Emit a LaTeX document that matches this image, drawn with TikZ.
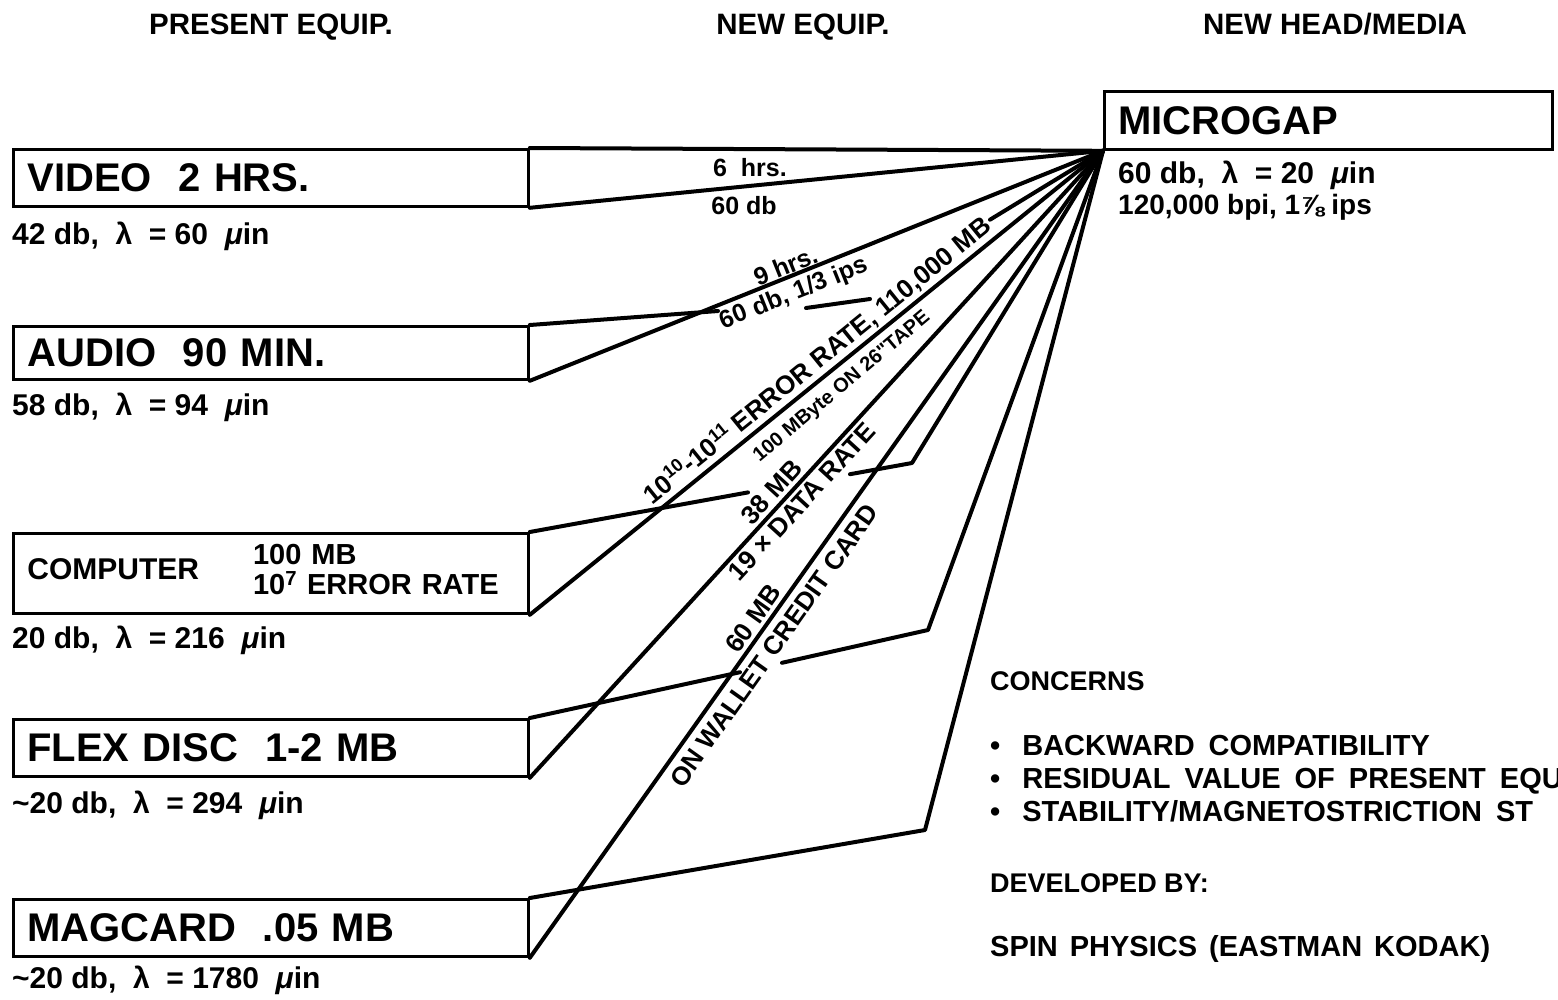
\documentclass[tikz,border=0pt]{standalone}
\usepackage{fontspec}
\setmainfont{Liberation Sans}
\usetikzlibrary{calc}
\newcommand{\fsz}[1]{\fontsize{#1}{#1}\selectfont}
\begin{document}
\begin{tikzpicture}[x=1pt,y=-1pt,
  box/.style={draw, line width=2.8pt, anchor=north west, text width=487pt, inner xsep=14pt, inner ysep=0pt, align=left, font=\fsz{40}\bfseries},
  conn/.style={line width=4pt, line join=round, line cap=round},
  captxt/.style={anchor=base west, inner sep=0pt, font=\fsz{30}\bfseries},
  head/.style={anchor=base, inner sep=0pt, font=\fsz{29.5}\bfseries},
  lbl/.style={inner sep=0pt, font=\fsz{25}\bfseries},
  big/.style={inner sep=0pt, font=\fsz{26}\bfseries},
  note/.style={anchor=base west, inner sep=0pt, font=\fsz{27}\bfseries},
  bul/.style={anchor=base west, inner sep=0pt, font=\fsz{29}\bfseries}]
\useasboundingbox (0,0) rectangle (1558,999);
\clip (0,0) rectangle (1558,999);
% headers
\node[head] (h1) at (271,34) {PRESENT EQUIP.};
\node[head] (h2) at (803,34) {NEW EQUIP.};
\node[head] (h3) at (1335,34) {NEW HEAD/MEDIA};
% boxes
\node[box, minimum height=57pt] (video) at (12,148) {VIDEO\ \ 2 HRS.};
\node[box, minimum height=53pt] (audio) at (12,325) {AUDIO\ \ 90 MIN.};
\node[box, minimum height=80pt, font=\fsz{30}\bfseries] (comp) at (12,532) {COMPUTER\hspace{54pt}{\fsz{29}\begin{tabular}[c]{@{}l@{}}100 MB\\[-2pt]10\textsuperscript{7} ERROR RATE\end{tabular}}};
\node[box, minimum height=57pt] (flex) at (12,718) {FLEX DISC\ \ 1-2 MB};
\node[box, minimum height=57pt] (mag) at (12,898) {MAGCARD\ \ .05 MB};
\node[box, minimum height=58pt, text width=420pt] (mg) at (1103,90) {MICROGAP};
% captions
\node[captxt] (c1) at (12,244) {42 db,\ \ λ\ \ = 60\ \ {\itshape μ}in};
\node[captxt] (c2) at (12,415) {58 db,\ \ λ\ \ = 94\ \ {\itshape μ}in};
\node[captxt] (c3) at (12,648) {20 db,\ \ λ\ \ = 216\ \ {\itshape μ}in};
\node[captxt] (c4) at (12,813) {\textasciitilde20 db,\ \ λ\ \ = 294\ \ {\itshape μ}in};
\node[captxt] (c5) at (12,988) {\textasciitilde20 db,\ \ λ\ \ = 1780\ \ {\itshape μ}in};
\node[captxt] (c6) at (1118,183) {60 db,\ \ λ\ \ = 20\ \ {\itshape μ}in};
\node[captxt, font=\fsz{28}\bfseries] (c7) at (1118,214) {120,000 bpi,\ 1⅞ ips};
% convergence point and bend points
\coordinate (C) at (mg.south west);
\coordinate (at1) at (718,311);
\coordinate (at2) at (806,308);
\coordinate (at3) at (870,299);
\coordinate (at4) at (990,219.7);
\coordinate (ct1) at (748,492.4);
\coordinate (ct2) at (850,474.2);
\coordinate (cb) at (912,463);
\coordinate (ft1) at (740,672.2);
\coordinate (ft2) at (782,662.8);
\coordinate (fb) at (928,630);
\coordinate (mb) at (925,830);
% connectors
\draw[conn] (video.north east) -- (C);
\draw[conn] (video.south east) -- (C);
\draw[conn] (audio.south east) -- (C);
\draw[conn] (audio.north east) -- (at1);
\draw[conn] (at2) -- (at3);
\draw[conn] (at4) -- (C);
\draw[conn] (comp.south east) -- (C);
\draw[conn] (comp.north east) -- (ct1);
\draw[conn] (ct2) -- (cb) -- (C);
\draw[conn] (flex.south east) -- (C);
\draw[conn] (flex.north east) -- (ft1);
\draw[conn] (ft2) -- (fb) -- (C);
\draw[conn] (mag.south east) -- (C);
\draw[conn] (mag.north east) -- (mb) -- (C);
% labels
\node[lbl] (l6h) at (750,168) {6\ \ hrs.};
\node[lbl] (l60) at (744,206) {60\ db};
\path (audio.south east) -- (C)
  node[lbl, pos=0.454, sloped, above=2pt] (l9h) {9 hrs.}
  node[lbl, pos=0.45, sloped, below=6pt] (l60b) {60 db, 1/3 ips};
\path (comp.south east) -- (C)
  node[big, pos=0.52, sloped, above=4pt] (lerr) {10\textsuperscript{10}-10\textsuperscript{11} ERROR RATE, 110,000 MB};
\node[lbl, font=\fsz{20}\bfseries, rotate=40] (ltape) at (842,387) {100 MByte ON 26\textquotedbl TAPE};
\path (flex.south east) -- (C)
  node[big, pos=0.44, sloped, above=5pt] (l38) {38 MB}
  node[big, pos=0.456, sloped, below=5pt] (l19) {19 × DATA RATE};
\path (mag.south east) -- (C)
  node[big, pos=0.41, sloped, above=5pt] (l60mb) {60 MB}
  node[big, pos=0.40, sloped, below=9pt] (lwal) {ON WALLET CREDIT CARD};
% concerns
\node[note] (n1) at (990,690) {CONCERNS};
\node[bul] (n2) at (990,755) {•\hspace{22pt}BACKWARD\hspace{14pt}COMPATIBILITY};
\node[bul] (n3) at (990,788) {•\hspace{22pt}RESIDUAL\hspace{14pt}VALUE\hspace{14pt}OF\hspace{14pt}PRESENT\hspace{14pt}EQU};
\node[bul] (n4) at (990,821) {•\hspace{22pt}STABILITY/MAGNETOSTRICTION\hspace{14pt}ST};
\node[note] (n5) at (990,892) {DEVELOPED BY:};
\node[bul] (n6) at (990,956) {SPIN\hspace{12pt}PHYSICS\hspace{12pt}(EASTMAN\hspace{12pt}KODAK)};
\end{tikzpicture}
\end{document}
